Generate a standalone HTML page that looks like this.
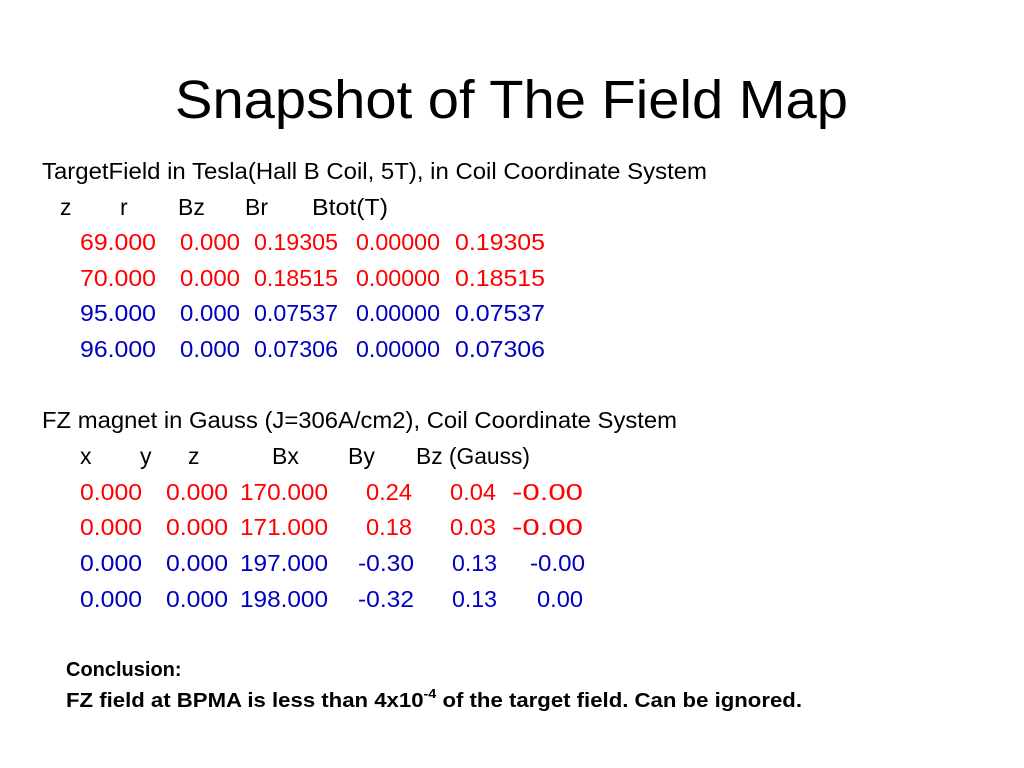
<!DOCTYPE html>
<html><head><meta charset="utf-8"><style>
html,body{margin:0;padding:0;background:#fff;}
svg{display:block;font-family:"Liberation Sans",Arial,sans-serif;}
.b{font-size:23px;fill:#000}
.r{font-size:23px;fill:#ff0000}
.u{font-size:23px;fill:#0000c0}
.c{font-size:20px;font-weight:bold;fill:#000}
</style></head><body>
<svg width="1024" height="768" viewBox="0 0 1024 768" lengthAdjust="spacingAndGlyphs">
<rect width="1024" height="768" fill="#fff"/>
<text x="175" y="118" font-size="54" textLength="673" lengthAdjust="spacingAndGlyphs">Snapshot of The Field Map</text>

<text class="b" x="42" y="179" textLength="665" lengthAdjust="spacingAndGlyphs">TargetField in Tesla(Hall B Coil, 5T), in Coil Coordinate System</text>
<g class="b">
<text x="60" y="215">z</text><text x="120" y="215">r</text><text x="178" y="215">Bz</text><text x="245" y="215">Br</text><text x="312" y="215" textLength="76" lengthAdjust="spacingAndGlyphs">Btot(T)</text>
</g>
<g class="r">
<text x="80" y="250" textLength="76" lengthAdjust="spacingAndGlyphs">69.000</text><text x="180" y="250" textLength="60" lengthAdjust="spacingAndGlyphs">0.000</text><text x="254" y="250" textLength="84" lengthAdjust="spacingAndGlyphs">0.19305</text><text x="356" y="250" textLength="84" lengthAdjust="spacingAndGlyphs">0.00000</text><text x="455" y="250" textLength="90" lengthAdjust="spacingAndGlyphs">0.19305</text>
</g>
<g class="r">
<text x="80" y="286" textLength="76" lengthAdjust="spacingAndGlyphs">70.000</text><text x="180" y="286" textLength="60" lengthAdjust="spacingAndGlyphs">0.000</text><text x="254" y="286" textLength="84" lengthAdjust="spacingAndGlyphs">0.18515</text><text x="356" y="286" textLength="84" lengthAdjust="spacingAndGlyphs">0.00000</text><text x="455" y="286" textLength="90" lengthAdjust="spacingAndGlyphs">0.18515</text>
</g>
<g class="u">
<text x="80" y="321" textLength="76" lengthAdjust="spacingAndGlyphs">95.000</text><text x="180" y="321" textLength="60" lengthAdjust="spacingAndGlyphs">0.000</text><text x="254" y="321" textLength="84" lengthAdjust="spacingAndGlyphs">0.07537</text><text x="356" y="321" textLength="84" lengthAdjust="spacingAndGlyphs">0.00000</text><text x="455" y="321" textLength="90" lengthAdjust="spacingAndGlyphs">0.07537</text>
</g>
<g class="u">
<text x="80" y="357" textLength="76" lengthAdjust="spacingAndGlyphs">96.000</text><text x="180" y="357" textLength="60" lengthAdjust="spacingAndGlyphs">0.000</text><text x="254" y="357" textLength="84" lengthAdjust="spacingAndGlyphs">0.07306</text><text x="356" y="357" textLength="84" lengthAdjust="spacingAndGlyphs">0.00000</text><text x="455" y="357" textLength="90" lengthAdjust="spacingAndGlyphs">0.07306</text>
</g>

<text class="b" x="42" y="428" textLength="635" lengthAdjust="spacingAndGlyphs">FZ magnet in Gauss (J=306A/cm2), Coil Coordinate System</text>
<g class="b">
<text x="80" y="464">x</text><text x="140" y="464">y</text><text x="188" y="464">z</text><text x="272" y="464">Bx</text><text x="348" y="464">By</text><text x="416" y="464" textLength="114" lengthAdjust="spacingAndGlyphs">Bz (Gauss)</text>
</g>
<g class="r">
<text x="80" y="500" textLength="62" lengthAdjust="spacingAndGlyphs">0.000</text><text x="166" y="500" textLength="62" lengthAdjust="spacingAndGlyphs">0.000</text><text x="240" y="500" textLength="88" lengthAdjust="spacingAndGlyphs">170.000</text><text x="366" y="500" textLength="46" lengthAdjust="spacingAndGlyphs">0.24</text><text x="450" y="500" textLength="46" lengthAdjust="spacingAndGlyphs">0.04</text><text x="512" y="500" textLength="71" lengthAdjust="spacingAndGlyphs">-0.00</text>
</g>
<g class="r">
<text x="80" y="535" textLength="62" lengthAdjust="spacingAndGlyphs">0.000</text><text x="166" y="535" textLength="62" lengthAdjust="spacingAndGlyphs">0.000</text><text x="240" y="535" textLength="88" lengthAdjust="spacingAndGlyphs">171.000</text><text x="366" y="535" textLength="46" lengthAdjust="spacingAndGlyphs">0.18</text><text x="450" y="535" textLength="46" lengthAdjust="spacingAndGlyphs">0.03</text><text x="512" y="535" textLength="71" lengthAdjust="spacingAndGlyphs">-0.00</text>
</g>
<g class="u">
<text x="80" y="571" textLength="62" lengthAdjust="spacingAndGlyphs">0.000</text><text x="166" y="571" textLength="62" lengthAdjust="spacingAndGlyphs">0.000</text><text x="240" y="571" textLength="88" lengthAdjust="spacingAndGlyphs">197.000</text><text x="358" y="571" textLength="56" lengthAdjust="spacingAndGlyphs">-0.30</text><text x="452" y="571" textLength="45" lengthAdjust="spacingAndGlyphs">0.13</text><text x="530" y="571" textLength="55" lengthAdjust="spacingAndGlyphs">-0.00</text>
</g>
<g class="u">
<text x="80" y="607" textLength="62" lengthAdjust="spacingAndGlyphs">0.000</text><text x="166" y="607" textLength="62" lengthAdjust="spacingAndGlyphs">0.000</text><text x="240" y="607" textLength="88" lengthAdjust="spacingAndGlyphs">198.000</text><text x="358" y="607" textLength="56" lengthAdjust="spacingAndGlyphs">-0.32</text><text x="452" y="607" textLength="45" lengthAdjust="spacingAndGlyphs">0.13</text><text x="537" y="607" textLength="46" lengthAdjust="spacingAndGlyphs">0.00</text>
</g>

<text class="c" x="66" y="676">Conclusion:</text>
<text class="c" x="66" y="707" textLength="736" lengthAdjust="spacingAndGlyphs">FZ field at BPMA is less than 4x10<tspan font-size="13" dy="-9">-4</tspan><tspan dy="9"> of the target field. Can be ignored.</tspan></text>
</svg>
</body></html>
